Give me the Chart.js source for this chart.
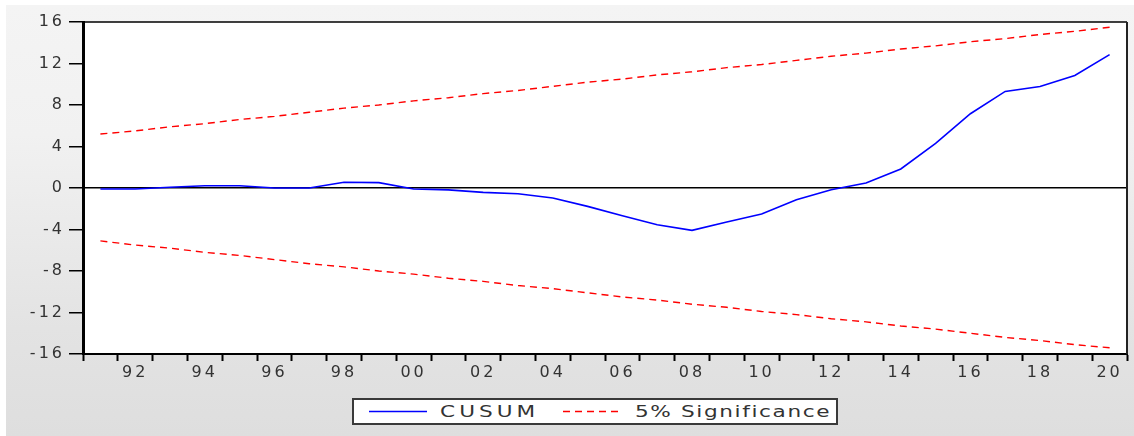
<!DOCTYPE html>
<html>
<head>
<meta charset="utf-8">
<script src="https://cdn.jsdelivr.net/npm/chart.js@4.4.1/dist/chart.umd.min.js"></script>
<style>
  html, body { margin: 0; padding: 0; background: #fff; }
  #panel {
    position: absolute; left: 6px; top: 5px; width: 1128px; height: 431px;
    background: linear-gradient(#f4f4f4 0%, #f1f1f1 30%, #e3e3e3 75%, #dedede 100%);
  }
  #myChart { position: absolute; left: 0; top: 0; }
  #legend {
    position: absolute; left: 352px; top: 398px; width: 486px; height: 27px;
    box-sizing: border-box; background: #fff;
    border: 2px solid #3a3a3a;
    font-family: "DejaVu Sans", sans-serif; font-size: 16px; color: #333;
  }
  #legend svg { position: absolute; top: 0; }
  #legend span {
    position: absolute; top: 0; line-height: 23px; white-space: nowrap;
    transform: scaleX(1.35); transform-origin: left center;
  }
</style>
</head>
<body>
<div id="panel"></div>
<canvas id="myChart" width="1134" height="436"></canvas>
<div id="legend">
  <svg style="left:15px" width="60" height="23"><line x1="0" y1="11.5" x2="58" y2="11.5" stroke="#0000ff" stroke-width="1.5"/></svg>
  <span style="left:86px; letter-spacing:3px">CUSUM</span>
  <svg style="left:209px" width="62" height="23"><line x1="0" y1="11.5" x2="60" y2="11.5" stroke="#ff0000" stroke-width="1.4" stroke-dasharray="7 5"/></svg>
  <span style="left:281px; letter-spacing:1.2px">5% Significance</span>
</div>
<script>
'use strict';

// 年（各年の中央に点を置く）
var years = [1991, 1992, 1993, 1994, 1995, 1996, 1997, 1998, 1999, 2000,
             2001, 2002, 2003, 2004, 2005, 2006, 2007, 2008, 2009, 2010,
             2011, 2012, 2013, 2014, 2015, 2016, 2017, 2018, 2019, 2020];

// CUSUM の値
var cusum = [-0.1, -0.1, 0.07, 0.22, 0.22, 0.0, 0.0, 0.55, 0.52, -0.1,
             -0.18, -0.42, -0.55, -0.96, -1.77, -2.67, -3.54, -4.08, -3.28, -2.5,
             -1.13, -0.16, 0.48, 1.83, 4.3, 7.16, 9.31, 9.79, 10.85, 12.85];

// 5% 有意水準の上限・下限
var upper = [5.2, 5.5, 5.9, 6.2, 6.6, 6.9, 7.3, 7.7, 8.0, 8.4,
             8.7, 9.1, 9.4, 9.8, 10.2, 10.5, 10.9, 11.2, 11.6, 11.9,
             12.3, 12.7, 13.0, 13.4, 13.7, 14.1, 14.4, 14.8, 15.1, 15.5];
var lower = [-5.1, -5.5, -5.8, -6.2, -6.5, -6.9, -7.3, -7.6, -8.0, -8.3,
             -8.7, -9.0, -9.4, -9.7, -10.1, -10.5, -10.8, -11.2, -11.5, -11.9,
             -12.2, -12.6, -12.9, -13.3, -13.6, -14.0, -14.4, -14.7, -15.1, -15.4];

var yTicks = [-16, -12, -8, -4, 0, 4, 8, 12, 16];

function toPoints(values) {
  return values.map(function (v, i) {
    return { x: years[i] + 0.5, y: v };
  });
}

// 背景と枠線
var framePlugin = {
  id: 'frame',
  beforeDraw: function (chart) {
    var a = chart.chartArea;
    var ctx = chart.ctx;
    ctx.save();
    ctx.fillStyle = '#ffffff';
    ctx.fillRect(a.left, a.top, a.right - a.left, a.bottom - a.top);
    ctx.restore();
    ctx.letterSpacing = '3px';
  },
  afterDraw: function (chart) {
    var a = chart.chartArea;
    var ctx = chart.ctx;
    ctx.save();
    ctx.strokeStyle = '#000';
    ctx.lineWidth = 1.5;
    ctx.beginPath();
    ctx.moveTo(a.left, a.top);
    ctx.lineTo(a.right, a.top);
    ctx.stroke();
    ctx.lineWidth = 2;
    ctx.strokeStyle = '#222';
    ctx.beginPath();
    ctx.moveTo(a.right, a.top);
    ctx.lineTo(a.right, a.bottom);
    ctx.stroke();
    ctx.restore();
  }
};

var ctx = document.getElementById('myChart').getContext('2d');

var myChart = new Chart(ctx, {
  type: 'line',
  data: {
    datasets: [
      {
        label: 'CUSUM',
        data: toPoints(cusum),
        borderColor: '#0000ff',
        borderWidth: 1.6,
        pointRadius: 0,
        tension: 0,
      },
      {
        label: '5% Significance',
        data: toPoints(upper),
        borderColor: '#ff0000',
        borderWidth: 1.4,
        borderDash: [7, 5],
        pointRadius: 0,
        tension: 0,
      },
      {
        label: '5% Significance (lower)',
        data: toPoints(lower),
        borderColor: '#ff0000',
        borderWidth: 1.4,
        borderDash: [7, 5],
        pointRadius: 0,
        tension: 0,
      },
    ],
  },
  options: {
    responsive: false,
    animation: false,
    layout: { padding: { top: 22, right: 7, bottom: 47, left: 0 } },
    plugins: {
      legend: { display: false },
      tooltip: { enabled: false },
    },
    scales: {
      x: {
        type: 'linear',
        min: years[0],
        max: years[years.length - 1] + 1,
        afterBuildTicks: function (scale) {
          var t = [];
          years.forEach(function (y) {
            t.push({ value: y });
            t.push({ value: y + 0.5 });
          });
          t.push({ value: years[years.length - 1] + 1 });
          scale.ticks = t;
        },
        afterFit: function (scale) { scale.height = 35; },
        ticks: {
          autoSkip: false,
          maxRotation: 0,
          padding: 2,
          color: '#333',
          font: { family: 'DejaVu Sans', size: 16 },
          callback: function (value) {
            var y = Math.floor(value);
            if (value - y === 0.5 && y % 2 === 0) {
              return String(y % 100).padStart(2, '0');
            }
            return '';
          },
        },
        grid: {
          drawOnChartArea: false,
          tickLength: 7,
          tickWidth: 2,
          tickColor: function (c) {
            return Number.isInteger(c.tick.value) ? '#000' : 'rgba(0,0,0,0)';
          },
        },
        border: { color: '#000', width: 2 },
      },
      y: {
        min: -16,
        max: 16,
        afterBuildTicks: function (scale) {
          scale.ticks = yTicks.map(function (v) { return { value: v }; });
        },
        afterFit: function (scale) { scale.width = 83; },
        ticks: {
          padding: 4,
          color: '#333',
          font: { family: 'DejaVu Sans', size: 16 },
          callback: function (value) { return String(value); },
        },
        grid: {
          drawOnChartArea: true,
          lineWidth: 1.5,
          color: function (c) {
            return c.tick && c.tick.value === 0 ? '#000' : 'rgba(0,0,0,0)';
          },
          tickLength: 14,
          tickWidth: 1.5,
          tickColor: '#000',
        },
        border: { color: '#000', width: 3 },
      },
    },
  },
  plugins: [framePlugin],
});
</script>
</body>
</html>
